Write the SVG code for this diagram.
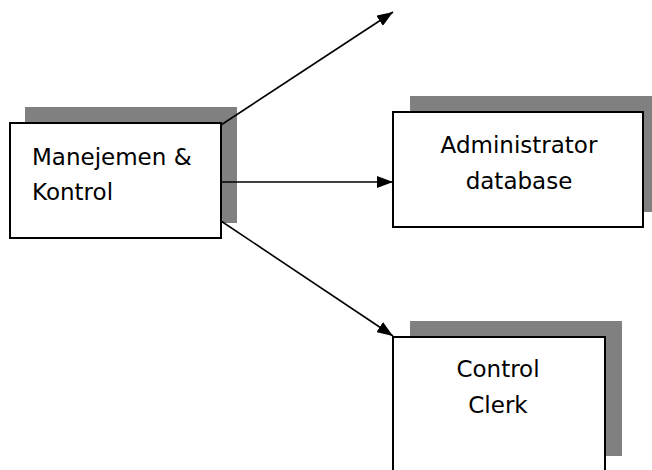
<svg xmlns="http://www.w3.org/2000/svg" width="652" height="470" viewBox="0 0 652 470">
<defs>
<style>
.shadow{fill:#808080;stroke:none}
.box{fill:#fff;stroke:#000;stroke-width:2}
.lbl{font-family:"DejaVu Sans","Liberation Sans",sans-serif;font-size:23px;fill:#000}
.conn{stroke:#000;stroke-width:1.6;fill:none;marker-end:url(#ah)}
</style>
<marker id="ah" viewBox="0 0 16 12" refX="16" refY="6" markerWidth="16" markerHeight="12" markerUnits="userSpaceOnUse" orient="auto">
<path d="M0,0 L16,6 L0,12 z" fill="#000"/>
</marker>
</defs>
<rect width="652" height="470" fill="#fff"/>
<g id="node-manajemen">
<rect class="shadow" x="25" y="107" width="212" height="116"/>
<rect class="box" x="10" y="123" width="211" height="115"/>
<text class="lbl" x="32" y="165">Manejemen &amp;</text>
<text class="lbl" x="32" y="200">Kontrol</text>
</g>
<g id="node-admin">
<rect class="shadow" x="410" y="96" width="245" height="116"/>
<rect class="box" x="393" y="112" width="250" height="115"/>
<text class="lbl" x="519" y="153" text-anchor="middle">Administrator</text>
<text class="lbl" x="519" y="189" text-anchor="middle">database</text>
</g>
<g id="node-clerk">
<rect class="shadow" x="410" y="321" width="212" height="135"/>
<rect class="box" x="393" y="337" width="212" height="140"/>
<text class="lbl" x="498" y="377" text-anchor="middle">Control</text>
<text class="lbl" x="498" y="413" text-anchor="middle">Clerk</text>
</g>
<g id="connectors">
<line class="conn" x1="221" y1="125" x2="393" y2="12"/>
<line class="conn" x1="221" y1="182" x2="393" y2="182"/>
<line class="conn" x1="221" y1="221" x2="393" y2="336"/>
</g>
</svg>
